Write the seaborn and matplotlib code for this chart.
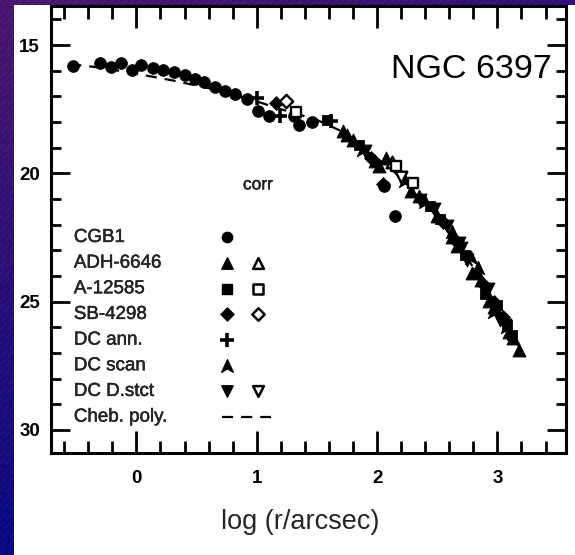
import numpy as np
import matplotlib
matplotlib.use("Agg")
import matplotlib.pyplot as plt
import matplotlib.patheffects as pe
from matplotlib.path import Path
from matplotlib.patches import Rectangle
from matplotlib.ticker import MultipleLocator
import seaborn as sns

sns.set_theme(style="ticks")
plt.rcParams["font.family"] = ["Liberation Sans", "DejaVu Sans"]

# Surface-brightness profile of NGC 6397 (mag) against log radius
cgb1_x = [-0.53, -0.30, -0.21, -0.13, -0.04, 0.04, 0.14, 0.22, 0.31, 0.40, 0.49, 0.56,
          0.65, 0.74, 0.82, 0.92, 1.01, 1.10, 1.31, 1.35, 1.46, 2.06, 2.15]
cgb1_y = [15.80, 15.69, 15.85, 15.69, 15.96, 15.76, 15.89, 15.96, 16.06, 16.15, 16.32, 16.45,
          16.63, 16.80, 16.89, 17.10, 17.58, 17.78, 17.78, 18.10, 18.01, 20.50, 21.68]

adh_x = [1.72, 1.75, 1.80, 1.98, 2.02, 2.07, 2.28, 2.35, 2.50, 2.62, 2.66, 2.79, 2.86,
         2.93, 2.97, 3.10, 3.13, 3.18]
adh_y = [18.36, 18.50, 18.70, 19.53, 19.70, 19.40, 20.70, 20.90, 21.68, 22.50, 22.85, 23.89,
         24.15, 24.99, 25.20, 26.20, 26.40, 26.90]
adh_corr_x = [2.12]
adh_corr_y = [19.55]

a12585_x = [1.58, 1.85, 2.44, 2.52, 2.73, 2.82, 2.90, 3.00, 3.08, 3.12]
a12585_y = [17.92, 18.90, 21.29, 21.80, 23.20, 23.90, 24.70, 25.12, 25.90, 26.30]
a12585_corr_x = [1.33, 2.16, 2.30]
a12585_corr_y = [17.60, 19.73, 20.38]

sb_x = [1.16, 1.95, 2.05, 2.55, 2.65, 2.88, 2.97, 3.05]
sb_y = [17.26, 19.40, 20.40, 21.90, 22.60, 24.30, 25.00, 25.60]
sb_corr_x = [1.24]
sb_corr_y = [17.17]

dcann_x = [1.00, 1.19, 1.62]
dcann_y = [17.06, 17.78, 17.98]

dcscan_x = [1.88, 2.23, 2.40, 2.62, 2.78, 2.84, 2.97, 3.08]
dcscan_y = [19.10, 20.30, 21.10, 22.30, 23.30, 23.70, 25.40, 26.00]

dcd_x = [1.90, 2.36, 2.47, 2.58, 2.68, 2.70, 2.75, 2.92, 3.02, 3.06]
dcd_y = [19.14, 21.03, 21.40, 22.07, 22.70, 22.90, 23.37, 24.50, 25.71, 25.90]
dcd_corr_x = [2.20]
dcd_corr_y = [20.15]

cheb_x = [-0.55, -0.30, 0.00, 0.30, 0.60, 0.90, 1.20, 1.50, 1.70, 1.90, 2.10, 2.30,
          2.50, 2.70, 2.90, 3.00, 3.10, 3.20]
cheb_y = [15.75, 15.88, 16.12, 16.38, 16.68, 17.05, 17.50, 17.92, 18.35, 19.10, 19.75, 20.65,
          21.70, 22.95, 24.40, 25.20, 26.05, 26.95]

xticks = [0, 1, 2, 3]
yticks = [15, 20, 25, 30]

# arrowhead marker for the DC scan points
arrow = Path([(0, 1), (0.85, -0.85), (0, -0.35), (-0.85, -0.85), (0, 1)],
             [Path.MOVETO, Path.LINETO, Path.LINETO, Path.LINETO, Path.CLOSEPOLY])

ink = [pe.withStroke(linewidth=0.3, foreground="black")]

W, H = 575, 555
fig = plt.figure(figsize=(W / 100, H / 100), dpi=100)

# slide-style backdrop: purple-to-navy band with faint diagonal hatching
bg = fig.add_axes([0, 0, 1, 1], zorder=-10)
yy, xx = np.mgrid[0:H, 0:W]
t = np.clip(yy / H + 0.45 * xx / W, 0, 1)[..., None]
c0 = np.array([74, 22, 108]) / 255
c1 = np.array([8, 8, 128]) / 255
img = c0 * (1 - t) + c1 * t
hatch = (((xx + yy) % 7) == 0) & ((yy % 9) < 6)
img[hatch] = np.clip(img[hatch] + 0.07, 0, 1)
bg.imshow(img, extent=[0, 1, 0, 1], aspect="auto", origin="upper")
bg.add_patch(Rectangle((14 / W, 0), 1, 1 - 5 / H, color="white", lw=0))
bg.set_xlim(0, 1)
bg.set_ylim(0, 1)
bg.axis("off")

ax = fig.add_axes([51 / W, 1 - 453 / H, (566 - 51) / W, (453 - 6) / H])
ax.set_facecolor("white")

# Chebyshev fit
sns.lineplot(x=cheb_x, y=cheb_y, ax=ax, color="black", linewidth=1.6,
             linestyle=(0, (5.0, 3.6)), sort=False, estimator=None, zorder=2)

filled = dict(color="black", edgecolor="black", zorder=3, legend=False)
opened = dict(color="black", facecolor="white", edgecolor="black", linewidth=1.7,
              zorder=4, legend=False)

sns.scatterplot(x=cgb1_x, y=cgb1_y, marker="o", s=70, ax=ax, **filled)
sns.scatterplot(x=adh_x, y=adh_y, marker="^", s=85, ax=ax, **filled)
sns.scatterplot(x=adh_corr_x, y=adh_corr_y, marker="^", s=70, ax=ax, **opened)
sns.scatterplot(x=a12585_x, y=a12585_y, marker="s", s=55, ax=ax, **filled)
sns.scatterplot(x=a12585_corr_x, y=a12585_corr_y, marker="s", s=48, ax=ax, **opened)
sns.scatterplot(x=sb_x, y=sb_y, marker="D", s=50, ax=ax, **filled)
sns.scatterplot(x=sb_corr_x, y=sb_corr_y, marker="D", s=46, ax=ax, **opened)
sns.scatterplot(x=dcann_x, y=dcann_y, marker="+", s=110, linewidth=2.6, ax=ax,
                color="black", zorder=3, legend=False)
sns.scatterplot(x=dcscan_x, y=dcscan_y, marker=arrow, s=105, ax=ax, **filled)
sns.scatterplot(x=dcd_x, y=dcd_y, marker="v", s=85, ax=ax, **filled)
sns.scatterplot(x=dcd_corr_x, y=dcd_corr_y, marker="v", s=70, ax=ax, **opened)

# axes limits, ticks and frame
ax.set_xlim(-0.71, 3.57)
ax.set_ylim(30.9, 13.48)
ax.xaxis.set_minor_locator(MultipleLocator(0.2))
ax.yaxis.set_minor_locator(MultipleLocator(1))
ax.set_xticks(xticks, labels=[str(v) for v in xticks], fontweight="bold", fontsize=13.5)
ax.set_yticks(yticks, labels=[str(v) for v in yticks], fontweight="bold", fontsize=13.5)
ax.tick_params(which="both", direction="in", top=True, right=True, color="black",
               width=2.0, labelcolor="black")
ax.tick_params(axis="x", which="major", length=16, pad=12)
ax.tick_params(axis="x", which="minor", length=9)
ax.tick_params(axis="y", which="major", length=13.5, pad=8)
ax.tick_params(axis="y", which="minor", length=7)
for sp in ax.spines.values():
    sp.set_visible(True)
    sp.set_linewidth(2.2)
    sp.set_color("black")
ax.set_xlabel("")
ax.set_ylabel("")
ax.grid(False)

ax.text(0.816, 0.857, "NGC 6397", transform=ax.transAxes, ha="center", va="center",
        fontsize=24.5, color="black")

# key: label column, filled-symbol column, corrected (open) column
key_text_x, key_fill_x, key_open_x = -0.52, 0.75, 1.01
key_row0, key_step = 22.5, 1.0
ax.text(key_open_x, 20.45, "corr", ha="center", va="center", fontsize=12.5, path_effects=ink)
key = [
    ("CGB1", dict(marker="o", s=55), None),
    ("ADH-6646", dict(marker="^", s=68), dict(marker="^", s=60)),
    ("A-12585", dict(marker="s", s=45), dict(marker="s", s=42)),
    ("SB-4298", dict(marker="D", s=44), dict(marker="D", s=40)),
    ("DC ann.", dict(marker="+", s=110), None),
    ("DC scan", dict(marker=arrow, s=95), None),
    ("DC D.stct", dict(marker="v", s=68), dict(marker="v", s=60)),
]
for i, (label, fk, ok) in enumerate(key):
    ry = key_row0 + i * key_step
    ax.text(key_text_x, ry, label, ha="left", va="center", fontsize=13.5, path_effects=ink)
    if fk["marker"] == "+":
        ax.scatter([key_fill_x], [ry], color="black", linewidths=2.6, zorder=5, **fk)
    else:
        ax.scatter([key_fill_x], [ry], color="black", edgecolors="black", zorder=5, **fk)
    if ok is not None:
        ax.scatter([key_open_x], [ry], facecolors="white", edgecolors="black",
                   linewidths=1.8, zorder=5, **ok)
ry = key_row0 + len(key) * key_step
ax.text(key_text_x, ry, "Cheb. poly.", ha="left", va="center", fontsize=13.5, path_effects=ink)
ax.plot([0.71, 1.12], [ry, ry], color="black", linewidth=1.6, linestyle=(0, (5.0, 3.6)))

fig.text(300 / W, 1 - 522 / H, "log (r/arcsec)", ha="center", va="center", fontsize=19.5)

fig.savefig("out.png", dpi=100, facecolor="white")
